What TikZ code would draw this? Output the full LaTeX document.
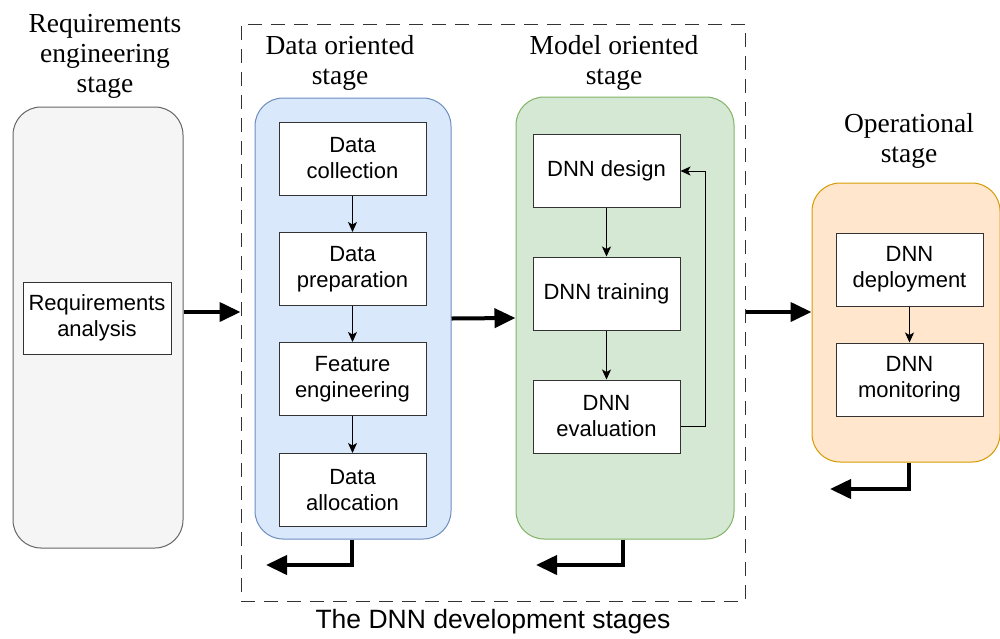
\documentclass[tikz,border=0pt]{standalone}
\usepackage{fontspec}
\setmainfont{Liberation Serif}
\setsansfont{Liberation Sans}
\usetikzlibrary{arrows.meta,positioning}

\definecolor{reqfill}{HTML}{F5F5F5}
\definecolor{reqline}{HTML}{666666}
\definecolor{datafill}{HTML}{DAE8FC}
\definecolor{dataline}{HTML}{6C8EBF}
\definecolor{modfill}{HTML}{D5E8D4}
\definecolor{modline}{HTML}{82B366}
\definecolor{opsfill}{HTML}{FFE6CC}
\definecolor{opsline}{HTML}{D79B00}
\definecolor{boxline}{HTML}{333333}

\tikzset{
  stagebox/.style={draw, rounded corners=28pt, line width=1pt, inner sep=0pt},
  task/.style={draw=boxline, fill=white, line width=1pt, minimum width=147pt,
    minimum height=73pt, inner sep=2pt, align=center,
    font=\sffamily\fontsize{22}{26}\selectfont},
  stagetitle/.style={align=center, font=\fontsize{27.5}{30}\selectfont},
  flow/.style={line width=1pt, -{Stealth[length=10pt,width=9pt,inset=2.5pt]}},
  bigflow/.style={line width=4pt, -{Triangle[length=21pt,width=19pt]}},
}

\begin{document}
\begin{tikzpicture}[x=1pt,y=-1pt]
\useasboundingbox (0,0) rectangle (1000,638);

% development stages frame
\node[draw=boxline, line width=1pt, dash pattern=on 14pt off 9pt,
      minimum width=504pt, minimum height=577pt, inner sep=0pt] (dev) at (493,312.5) {};
\node[font=\sffamily\fontsize{26.5}{30}\selectfont] (devlabel) at (493,622) {The DNN development stages};

% stage containers
\node[stagebox, draw=reqline, fill=reqfill, minimum width=170pt, minimum height=441pt] (reqc) at (98,327.5) {};
\node[stagebox, draw=dataline, fill=datafill, minimum width=196pt, minimum height=441pt] (datac) at (353,318.5) {};
\node[stagebox, draw=modline, fill=modfill, minimum width=218pt, minimum height=442pt] (modc) at (625,318) {};
\node[stagebox, draw=opsline, fill=opsfill, minimum width=188pt, minimum height=279pt] (opsc) at (906,322.5) {};

% stage titles
\node[stagetitle] (reqt) at (105,56) {Requirements\\engineering\\stage};
\node[stagetitle] (datat) at (340,63) {Data oriented\\stage};
\node[stagetitle] (modt) at (614,63) {Model oriented\\stage};
\node[stagetitle] (opst) at (909,141) {Operational\\stage};

% requirements engineering
\node[task, minimum width=148pt, minimum height=72pt] (reqa) at (97,318) {Requirements\\analysis};

% data oriented tasks
\node[task] (dcol) at (352.5,158.5) {Data\\collection};
\node[task] (dprep) at (352.5,269) {Data\\preparation};
\node[task] (feat) at (352.5,379) {Feature\\engineering};
\node[task] (dalloc) at (352.5,490) {Data\\allocation};

% model oriented tasks
\node[task] (design) at (606.5,171) {DNN design};
\node[task] (train) at (606.5,293.5) {DNN training};
\node[task] (eval) at (606.5,416.5) {DNN\\evaluation};

% operational tasks
\node[task] (deploy) at (909.5,269.5) {DNN\\deployment};
\node[task] (monitor) at (909.5,379.5) {DNN\\monitoring};

% flows inside the stages
\draw[flow] (dcol) -- (dprep);
\draw[flow] (dprep) -- (feat);
\draw[flow] (feat) -- (dalloc);
\draw[flow] (design) -- (train);
\draw[flow] (train) -- (eval);
\draw[flow] (deploy) -- (monitor);
\coordinate (loop) at (705,171);
\draw[flow] ([yshift=-10pt]eval.east) -| (loop) -- (design.east);

% flows between the stages
\draw[bigflow] (reqc.east |- 0,312) -- (dev.west |- 0,312);
\draw[bigflow] (datac.east) -- (modc.west);
\draw[bigflow] (dev.east |- 0,312) -- (opsc.west |- 0,312);

% feedback flows
\coordinate (dret) at (266,565);
\coordinate (mret) at (536,565);
\coordinate (oret) at (830,489);
\draw[bigflow] ([xshift=-1pt]datac.south) |- (dret);
\draw[bigflow] ([xshift=-2pt]modc.south) |- (mret);
\draw[bigflow] ([xshift=3pt]opsc.south) |- (oret);
\end{tikzpicture}
\end{document}
